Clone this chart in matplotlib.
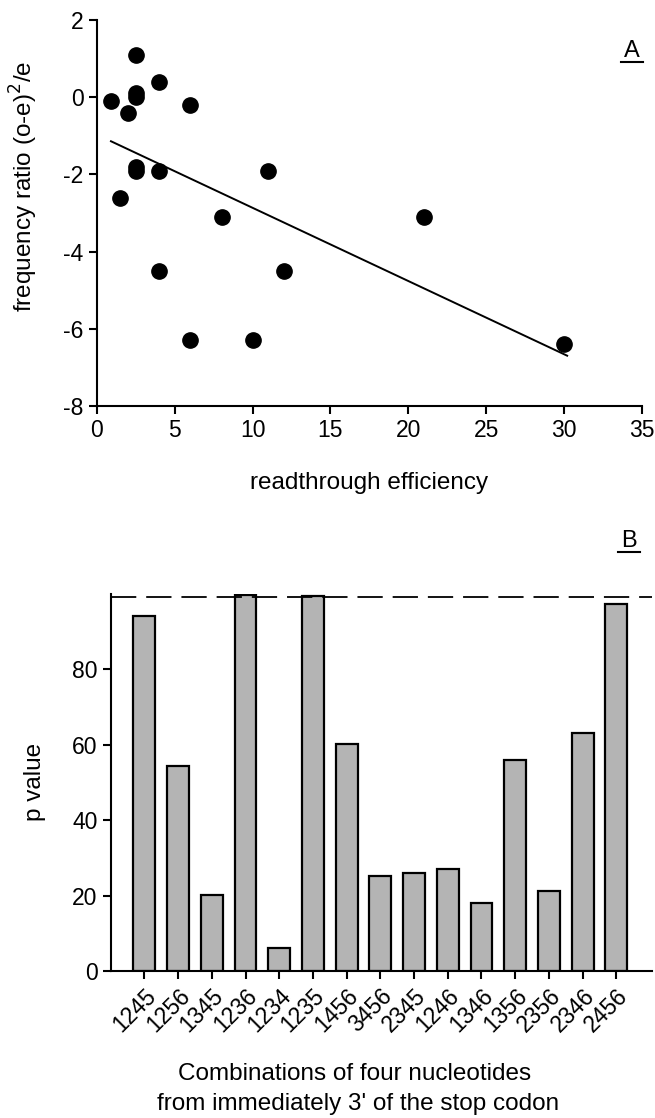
import matplotlib
matplotlib.use("Agg")
import matplotlib.pyplot as plt
from matplotlib.lines import Line2D

plt.rcParams['font.family'] = ['Liberation Sans', 'DejaVu Sans']
plt.rcParams['axes.unicode_minus'] = False

# panel A: scatter + fitted line
eff = [0.9, 1.5, 2, 2.5, 2.5, 2.5, 2.5, 2.5, 4, 4, 4, 6, 6, 8, 10, 11, 12, 21, 30]
ratio = [-0.1, -2.6, -0.4, 1.1, 0.1, 0.0, -1.8, -1.9, 0.4, -1.9, -4.5, -0.2,
         -6.3, -3.1, -6.3, -1.9, -4.5, -3.1, -6.4]
fit_x = [0.9, 30.2]
fit_y = [-1.14, -6.7]

# panel B: bars
combos = ['1245', '1256', '1345', '1236', '1234', '1235', '1456', '3456',
          '2345', '1246', '1346', '1356', '2356', '2346', '2456']
pvals = [94.2, 54.2, 20.1, 99.7, 6.0, 99.3, 60.1, 25.1, 26.0, 27.1, 18.1,
         55.9, 21.1, 63.0, 97.3]
cutoff = 99

fs_tick = 16.5
fs_lab = 17.5

fig = plt.figure(figsize=(6.55, 11.18), dpi=100)

ax1 = fig.add_axes([0.148, 0.637, 0.832, 0.345])
ax1.plot(eff, ratio, 'o', color='black', markersize=11)
ax1.plot(fit_x, fit_y, color='black', linewidth=1.4)
ax1.set_xlim(0, 35)
ax1.set_ylim(-8, 2)
ax1.set_xticks(range(0, 36, 5))
ax1.set_yticks(range(-8, 3, 2))
ax1.set_xlabel('readthrough efficiency', fontsize=fs_lab)
ax1.set_ylabel('frequency ratio (o-e)$^2$/e', fontsize=fs_lab)
ax1.xaxis.set_label_coords(0.5, -0.172)
ax1.yaxis.set_label_coords(-0.105, 0.57)

ax2 = fig.add_axes([0.169, 0.1315, 0.826, 0.3375])
x = range(len(combos))
ax2.bar(x, pvals, width=0.65, color='#b4b4b4', edgecolor='black', linewidth=1.6)
ax2.axhline(cutoff, color='black', linestyle=(0, (14, 5.5)), linewidth=1.3)
ax2.set_xlim(-1, 15.05)
ax2.set_ylim(0, 100)
ax2.set_yticks([0, 20, 40, 60, 80])
ax2.set_xticks(list(x))
ax2.set_xticklabels(combos, rotation=45, ha='right', rotation_mode='anchor')
ax2.set_ylabel('p value', fontsize=fs_lab)
ax2.yaxis.set_label_coords(-0.12, 0.5)

for ax in (ax1, ax2):
    ax.spines['top'].set_visible(False)
    ax.spines['right'].set_visible(False)
    ax.spines['left'].set_linewidth(1.5)
    ax.spines['bottom'].set_linewidth(1.5)
    ax.tick_params(direction='out', length=6, width=1.5, labelsize=fs_tick)

fig.text(355 / 655, 1 - 1074 / 1118, 'Combinations of four nucleotides',
         ha='center', va='center', fontsize=fs_lab)
fig.text(358 / 655, 1 - 1104 / 1118, "from immediately 3' of the stop codon",
         ha='center', va='center', fontsize=fs_lab)

# panel letters with underline
for letter, (lx, ly) in (('A', (632, 51)), ('B', (629, 541))):
    fig.text(lx / 655, 1 - ly / 1118, letter, ha='center', va='center', fontsize=17)
    uy = 1 - (ly + 11) / 1118
    fig.add_artist(Line2D([(lx - 11) / 655, (lx + 11) / 655], [uy, uy],
                          color='black', linewidth=1.5))

fig.savefig('out.png', dpi=100)
